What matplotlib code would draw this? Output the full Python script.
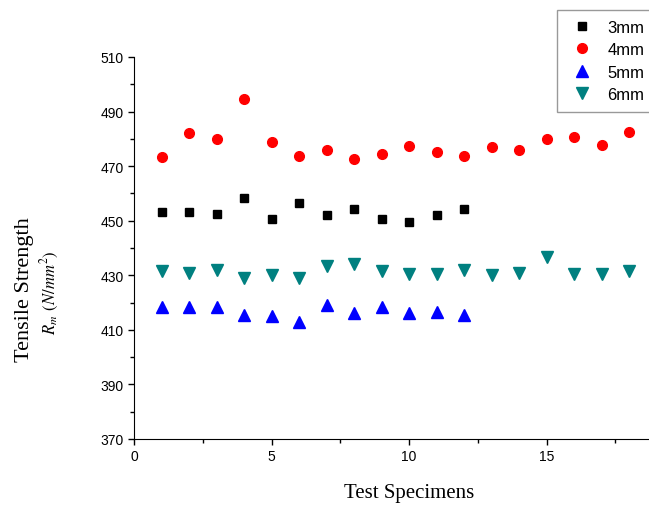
import matplotlib
matplotlib.use('Agg')
import matplotlib.pyplot as plt

# specimen numbers
spec_12 = list(range(1, 13))
spec_18 = list(range(1, 19))

# tensile strength R_m (N/mm^2) per plate thickness
r_3mm = [453.1, 453.1, 452.6, 458.2, 450.5, 456.5, 452.0, 454.3, 450.6, 449.6, 452.0, 454.4]
r_4mm = [473.2, 482.0, 479.9, 494.5, 478.8, 473.6, 475.9, 472.6, 474.5, 477.4, 475.1, 473.7,
         477.0, 476.0, 480.0, 480.8, 477.6, 482.4]
r_5mm = [418.5, 418.3, 418.3, 415.3, 415.1, 413.0, 419.1, 416.3, 418.4, 416.2, 416.7, 415.4]
r_6mm = [431.5, 430.7, 432.0, 429.0, 430.1, 428.9, 433.4, 434.0, 431.5, 430.4, 430.4, 431.9,
         430.1, 431.0, 436.6, 430.6, 430.5, 431.7]

x_ticks = [0, 5, 10, 15]
x_minor = [2.5, 7.5, 12.5, 17.5]
y_ticks = [370, 390, 410, 430, 450, 470, 490, 510]
y_minor = [380, 400, 420, 440, 460, 480, 500]

sans = 'Liberation Sans'
serif = 'Liberation Serif'

fig = plt.figure(figsize=(6.49, 5.06), dpi=100)
# axes run past the right edge of the figure, as in the original crop
ax = fig.add_axes([134 / 649, 66 / 506, 550 / 649, 382 / 506])

ax.plot(spec_12, r_3mm, 's', color='black', ms=6, label='3mm')
ax.plot(spec_18, r_4mm, 'o', color='red', ms=7, label='4mm')
ax.plot(spec_12, r_5mm, '^', color='blue', ms=8, label='5mm')
ax.plot(spec_18, r_6mm, 'v', color='#008080', ms=8, label='6mm')

ax.set_xlim(0, 20)
ax.set_ylim(370, 510)
ax.set_xticks(x_ticks)
ax.set_xticks(x_minor, minor=True)
ax.set_yticks(y_ticks)
ax.set_yticks(y_minor, minor=True)
ax.tick_params(which='major', direction='out', length=4, width=1, labelsize=10)
ax.tick_params(which='minor', direction='out', length=3, width=1)
for lab in ax.get_xticklabels() + ax.get_yticklabels():
    lab.set_fontfamily(sans)
ax.spines['top'].set_visible(False)
ax.spines['right'].set_visible(False)

ax.set_xlabel('Test Specimens', fontfamily=serif, fontsize=15, labelpad=14)
fig.text(25 / 649, 1 - 290 / 506, 'Tensile Strength', rotation=90, ha='center', va='center',
         fontfamily=serif, fontsize=16)
fig.text(50 / 649, 1 - 293 / 506, r'$R_m$ $(N/mm^2)$', rotation=90, ha='center', va='center',
         fontsize=12, math_fontfamily='stix')

leg = ax.legend(loc='upper left', bbox_to_anchor=(557 / 649, 1 - 11 / 506),
                bbox_transform=fig.transFigure, prop={'family': sans, 'size': 12},
                frameon=True, fancybox=False, edgecolor='#808080', borderpad=0.58,
                handlelength=1.85, handletextpad=0.6, labelspacing=0.45, borderaxespad=0)
leg.get_frame().set_linewidth(1)

fig.savefig('out.png', dpi=100)
plt.close(fig)
